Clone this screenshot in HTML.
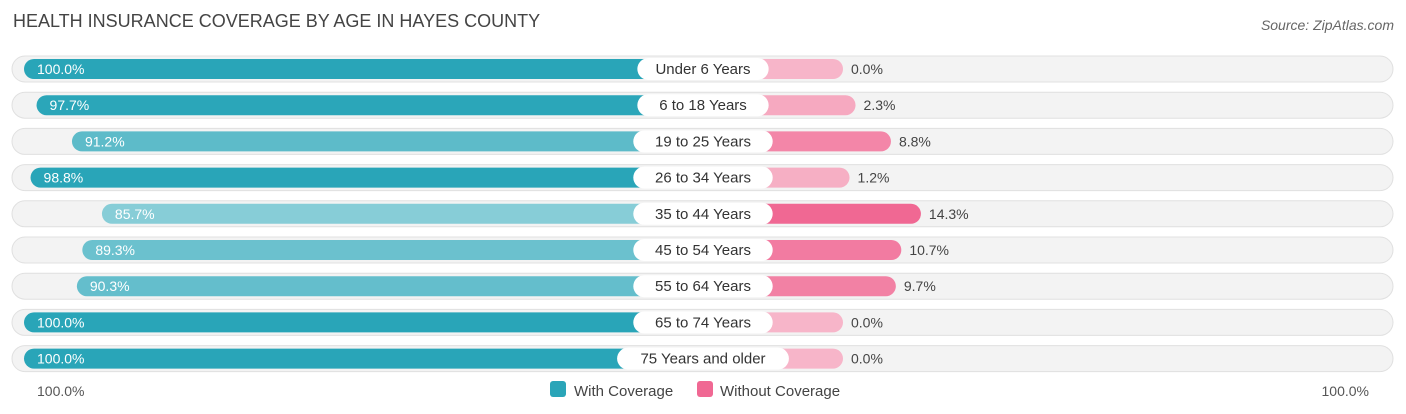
<!DOCTYPE html>
<html><head><meta charset="utf-8"><style>
body{margin:0;width:1406px;height:414px;background:#fff;font-family:"Liberation Sans",sans-serif;overflow:hidden;position:relative}
.t{position:absolute;left:13px;top:11px;font-size:18px;color:#444}
.src{position:absolute;right:12px;top:17px;font-size:14px;color:#666;font-style:italic}
</style></head><body>
<div class="t">HEALTH INSURANCE COVERAGE BY AGE IN HAYES COUNTY</div>
<div class="src">Source: ZipAtlas.com</div>
<svg id="c" width="1406" height="414" style="position:absolute;left:0;top:0"></svg>
<script>
const categories=["Under 6 Years","6 to 18 Years","19 to 25 Years","26 to 34 Years","35 to 44 Years","45 to 54 Years","55 to 64 Years","65 to 74 Years","75 Years and older"];
const withCov=[100.0,97.7,91.2,98.8,85.7,89.3,90.3,100.0,100.0];
const withoutCov=[0.0,2.3,8.8,1.2,14.3,10.7,9.7,0.0,0.0];
const svg=document.getElementById('c');const NS='http://www.w3.org/2000/svg';
const cx=703,k=5.45,offL=134,offR=140,y0=69,dy=36.2;
function el(t,a,p){const e=document.createElementNS(NS,t);for(const q in a)e.setAttribute(q,a[q]);(p||svg).appendChild(e);return e;}
function mix(a,b,t){t=Math.max(0,Math.min(1,t));return 'rgb('+a.map((x,i)=>Math.round(x+(b[i]-x)*t)).join(',')+')';}
const xL=v=>cx-(offL+v*k), xR=v=>cx+offR+v*k;
categories.forEach((c,i)=>{
 const y=y0+i*dy;
 const g=el('g',{});
 
 
 const bg=el('rect',{x:12,y:y-13,width:1381,height:26,rx:13,fill:'#f3f3f3',stroke:'#e0e0e0'},g);
 
 
 const lx=xL(withCov[i]);
 const b1=el('rect',{x:lx,y:y-10,width:cx-lx,height:20,rx:10,fill:mix([140,207,217],[41,165,184],(withCov[i]-85)/13)},g);
 
 
 const rx=xR(withoutCov[i]);
 const b2=el('rect',{x:cx,y:y-10,width:rx-cx,height:20,rx:10,fill:mix([247,181,201],[240,104,147],withoutCov[i]/14.3)},g);
 
 
 const t1=el('text',{x:lx+13,y:y+5,'font-size':14,fill:'#fff'},g);t1.textContent=withCov[i].toFixed(1)+'%';
 
 
 const t2=el('text',{x:rx+8,y:y+5,'font-size':14,fill:'#444'},g);t2.textContent=withoutCov[i].toFixed(1)+'%';
 
 
 const w=c.length*8.1+26;
 const lb=el('rect',{x:cx-w/2,y:y-11,width:w,height:22,rx:11,fill:'#fff'},g);
 
 
 const lt=el('text',{x:cx,y:y+5,'font-size':15,fill:'#333','text-anchor':'middle'},g);lt.textContent=c;
 
 
});
const a1=el('text',{x:37,y:396,'font-size':14,fill:'#555'});a1.textContent='100.0%';


const a2=el('text',{x:1369,y:396,'font-size':14,fill:'#555','text-anchor':'end'});a2.textContent='100.0%';


const l1=el('rect',{x:550,y:381,width:16,height:16,rx:3,fill:'#2aa5b8'});


const lt1=el('text',{x:574,y:396,'font-size':15,fill:'#444'});lt1.textContent='With Coverage';


const l2=el('rect',{x:697,y:381,width:16,height:16,rx:3,fill:'#f06893'});


const lt2=el('text',{x:720,y:396,'font-size':15,fill:'#444'});lt2.textContent='Without Coverage';


</script>
</body></html>
